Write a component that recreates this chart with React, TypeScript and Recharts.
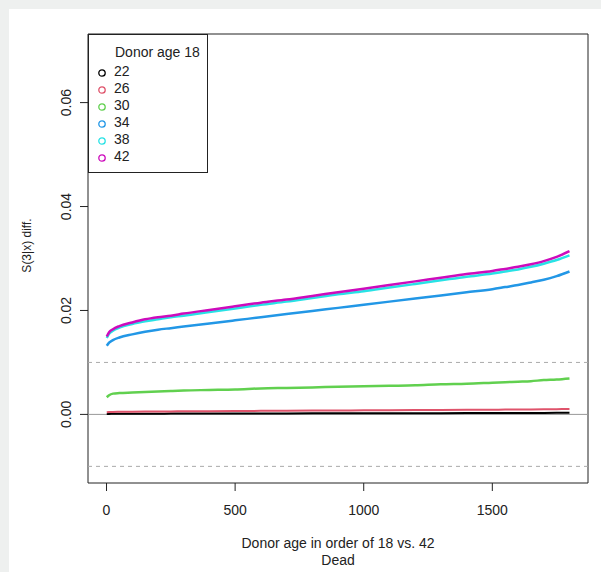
import React from 'react';
import {
  LineChart,
  Line,
  XAxis,
  YAxis,
  ReferenceLine,
  ReferenceArea,
  Legend,
  Label,
} from 'recharts';

// positions along the donor ordering
const positions = [1, 10, 25, 50, 100, 150, 200, 250, 300, 400, 500, 600, 700, 800, 900, 1000, 1100, 1200, 1300, 1400, 1500, 1550, 1600, 1650, 1700, 1750, 1800];

const age22 = [0.0001, 0.0001, 0.00012, 0.00012, 0.00013, 0.00014, 0.00014, 0.00015, 0.00015, 0.00016, 0.00017, 0.00018, 0.00019, 0.0002, 0.0002, 0.00021, 0.00022, 0.00023, 0.00024, 0.00025, 0.00026, 0.00027, 0.00027, 0.00028, 0.00029, 0.0003, 0.00032];
const age26 = [0.0004, 0.00045, 0.00048, 0.0005, 0.00052, 0.00054, 0.00056, 0.00058, 0.0006, 0.00062, 0.00065, 0.00068, 0.0007, 0.00073, 0.00075, 0.00078, 0.0008, 0.00083, 0.00085, 0.00088, 0.0009, 0.00092, 0.00094, 0.00096, 0.00098, 0.001, 0.00105];
const age30 = [0.0033, 0.0037, 0.004, 0.0041, 0.0042, 0.0043, 0.0044, 0.0045, 0.0046, 0.0047, 0.0048, 0.005, 0.0051, 0.0052, 0.0053, 0.0054, 0.0055, 0.0056, 0.0058, 0.0059, 0.0061, 0.0062, 0.0063, 0.0064, 0.0066, 0.0067, 0.0069];
const age34 = [0.0132, 0.0138, 0.0143, 0.0148, 0.0154, 0.0159, 0.0163, 0.0166, 0.0169, 0.0175, 0.0181, 0.0187, 0.0193, 0.0199, 0.0205, 0.0211, 0.0217, 0.0223, 0.0229, 0.0235, 0.0241, 0.0245, 0.0249, 0.0254, 0.0259, 0.0266, 0.0275];
const age38 = [0.0147, 0.0155, 0.0161, 0.0167, 0.0174, 0.0179, 0.0183, 0.0187, 0.019, 0.0197, 0.0204, 0.0211, 0.0217, 0.0224, 0.0231, 0.0237, 0.0244, 0.0251, 0.0258, 0.0265, 0.0271, 0.0275, 0.0279, 0.0284, 0.029, 0.0297, 0.0306];
const age42 = [0.015, 0.0158, 0.0164, 0.017, 0.0177, 0.0183, 0.0187, 0.019, 0.0194, 0.0201, 0.0208, 0.0215, 0.0221, 0.0228, 0.0235, 0.0242, 0.0249, 0.0256, 0.0263, 0.027, 0.0276, 0.028, 0.0284, 0.0289, 0.0295, 0.0303, 0.0314];

const ages = ['22', '26', '30', '34', '38', '42'];
const colors = ['#000000', '#DF536B', '#61D04F', '#2297E6', '#28E2E5', '#CD0BBC'];
const xTicks = [0, 500, 1000, 1500];
const yTicks = [0, 0.02, 0.04, 0.06];
const yTickLabels = ['0.00', '0.02', '0.04', '0.06'];

const data = positions.map((x, i) => ({
  x,
  a22: age22[i],
  a26: age26[i],
  a30: age30[i],
  a34: age34[i],
  a38: age38[i],
  a42: age42[i],
}));

const FONT = '"Liberation Sans", Arial, sans-serif';

const YTick = (props: any) => {
  const { x, y, payload } = props;
  const idx = yTicks.indexOf(payload.value);
  const tx = x - 9;
  return (
    <text x={tx} y={y} transform={`rotate(-90, ${tx}, ${y})`} textAnchor="middle"
      fontSize={14} fill="#222" fontFamily={FONT}>
      {idx >= 0 ? yTickLabels[idx] : payload.value}
    </text>
  );
};

const XTick = (props: any) => {
  const { x, y, payload } = props;
  return (
    <text x={x} y={y + 24} textAnchor="middle" fontSize={14} fill="#222" fontFamily={FONT}>
      {payload.value}
    </text>
  );
};

const LegendBox = (props: any) => {
  const items = props.payload || [];
  return (
    <div style={{
      width: 120, height: 139, boxSizing: 'border-box', border: '1px solid #222',
      background: '#fff', fontFamily: FONT, fontSize: 14, color: '#222',
      paddingTop: 9, lineHeight: '17px', textAlign: 'left',
    }}>
      <div style={{ paddingLeft: 26 }}>Donor age 18</div>
      <div style={{ marginTop: 2 }}>
        {items.map((it: any) => (
          <div key={it.value} style={{ position: 'relative', paddingLeft: 25, height: 17 }}>
            <svg width={10} height={10} style={{ position: 'absolute', left: 8, top: 5 }}>
              <circle cx={5} cy={5} r={3.2} fill="none" stroke={it.color} strokeWidth={1.3} />
            </svg>
            {it.value}
          </div>
        ))}
      </div>
    </div>
  );
};

export default function App() {
  return (
    <div style={{ position: 'absolute', left: 0, top: 0, width: 601, height: 572, background: '#eef0ef', overflow: 'hidden' }}>
      <div style={{ position: 'absolute', left: 9, top: 9, right: 0, bottom: 0, background: '#ffffff' }} />
      <div style={{ position: 'absolute', left: 0, top: 0 }}>
        <LineChart width={601} height={572} data={data} margin={{ top: 34, right: 13, bottom: 29, left: 28 }}>
          <XAxis
            dataKey="x"
            type="number"
            domain={[-72, 1872]}
            ticks={xTicks}
            allowDataOverflow
            height={60}
            axisLine={false}
            tickSize={8}
            tickMargin={0}
            tickLine={{ stroke: '#222' }}
            tick={<XTick />}
          >
            <Label
              content={(p: any) => {
                const vb = p.viewBox;
                const cx = vb.x + vb.width / 2;
                return (
                  <g>
                    <text x={cx} y={vb.y + 65} textAnchor="middle" fontSize={14} fill="#222" fontFamily={FONT}>
                      Donor age in order of 18 vs. 42
                    </text>
                    <text x={cx} y={vb.y + 82} textAnchor="middle" fontSize={14} fill="#222" fontFamily={FONT}>
                      Dead
                    </text>
                  </g>
                );
              }}
            />
          </XAxis>
          <YAxis
            type="number"
            domain={[-0.0132, 0.0732]}
            ticks={yTicks}
            allowDataOverflow
            width={60}
            axisLine={false}
            tickSize={8}
            tickMargin={0}
            tickLine={{ stroke: '#222' }}
            tick={<YTick />}
          >
            <Label
              content={(p: any) => {
                const vb = p.viewBox;
                const cy = vb.y + vb.height / 2 - 13;
                const tx = 31;
                return (
                  <text x={tx} y={cy} transform={`rotate(-90, ${tx}, ${cy})`} textAnchor="middle"
                    fontSize={12} fill="#222" fontFamily={FONT}>
                    S(3|x) diff.
                  </text>
                );
              }}
            />
          </YAxis>
          <ReferenceLine y={0.01} stroke="#aaaaaa" strokeDasharray="4 4" />
          <ReferenceLine y={-0.01} stroke="#aaaaaa" strokeDasharray="4 4" />
          <ReferenceLine y={0} stroke="#999999" />
          {ages.map((a, i) => (
            <Line
              key={a}
              dataKey={`a${a}`}
              name={a}
              type="monotone"
              stroke={colors[i]}
              strokeWidth={i < 2 ? 2 : 2.5}
              dot={false}
              isAnimationActive={false}
            />
          ))}
          <ReferenceArea x1={-72} x2={1872} y1={-0.0132} y2={0.0732} fill="none" stroke="#222" strokeWidth={1} />
          <Legend
            layout="vertical"
            align="center"
            verticalAlign="middle"
            content={<LegendBox />}
            wrapperStyle={{ position: 'absolute', left: 88, top: 34, width: 120, height: 139 }}
          />
        </LineChart>
      </div>
    </div>
  );
}
